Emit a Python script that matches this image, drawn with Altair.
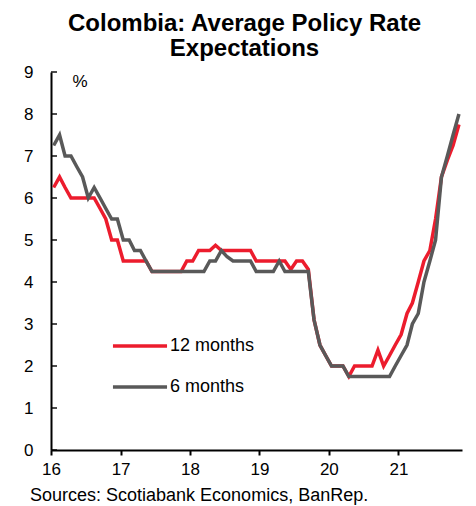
import altair as alt
import pandas as pd

# Monthly survey readings, Jan 2016 - Nov 2021 (dated mid-month)
months = [f"{2016 + i // 12}-{i % 12 + 1:02d}-15" for i in range(71)]

expect_12m = [
    6.25, 6.5, 6.25, 6.0, 6.0, 6.0, 6.0, 6.0, 5.75, 5.5, 5.0, 5.0,
    4.5, 4.5, 4.5, 4.5, 4.5, 4.25, 4.25, 4.25, 4.25, 4.25, 4.25, 4.5,
    4.5, 4.75, 4.75, 4.75, 4.875, 4.75, 4.75, 4.75, 4.75, 4.75, 4.75, 4.5,
    4.5, 4.5, 4.5, 4.5, 4.5, 4.3, 4.5, 4.5, 4.3, 3.1, 2.5, 2.25,
    2.0, 2.0, 2.0, 1.75, 2.0, 2.0, 2.0, 2.0, 2.38, 2.0, 2.25, 2.5,
    2.75, 3.25, 3.5, 4.0, 4.5, 4.75, 5.5, 6.5, 6.9, 7.25, 7.75,
]
expect_6m = [
    7.25, 7.5, 7.0, 7.0, 6.75, 6.5, 6.0, 6.25, 6.0, 5.75, 5.5, 5.5,
    5.0, 5.0, 4.75, 4.75, 4.5, 4.25, 4.25, 4.25, 4.25, 4.25, 4.25, 4.25,
    4.25, 4.25, 4.25, 4.5, 4.5, 4.75, 4.6, 4.5, 4.5, 4.5, 4.5, 4.25,
    4.25, 4.25, 4.25, 4.5, 4.25, 4.25, 4.25, 4.25, 4.25, 3.1, 2.5, 2.25,
    2.0, 2.0, 2.0, 1.75, 1.75, 1.75, 1.75, 1.75, 1.75, 1.75, 1.75, 2.0,
    2.25, 2.5, 3.0, 3.25, 4.0, 4.5, 5.0, 6.5, 7.0, 7.5, 8.0,
]

series_names = ["12 months", "6 months"]
series_colors = ["#EC1C2D", "#595959"]
y_ticks = list(range(0, 10))
year_ticks = [2016, 2017, 2018, 2019, 2020, 2021]

FONT = "Liberation Sans"
W, H = 411, 378

df = pd.concat([
    pd.DataFrame({"date": months, "rate": expect_12m, "series": series_names[0]}),
    pd.DataFrame({"date": months, "rate": expect_6m, "series": series_names[1]}),
])

x_enc = alt.X(
    "date:T",
    title=None,
    scale=alt.Scale(
        domain=[alt.DateTime(year=2016, month=1, date=1, utc=True),
                alt.DateTime(year=2021, month=12, date=1, utc=True)],
    ),
    axis=alt.Axis(
        values=[alt.DateTime(year=y, month=1, date=1, utc=True) for y in year_ticks],
        labelExpr="utcFormat(datum.value, '%y')",
        grid=False, tickSize=5, tickWidth=2, tickColor="black",
        domainColor="black", domainWidth=2,
        labelPadding=6, labelFontSize=17, labelFont=FONT, labelColor="black",
        labelFlush=False,
    ),
)
y_scale = alt.Scale(domain=[0, 9], nice=False)

lines = alt.Chart(df).mark_line(strokeWidth=3.5).encode(
    x=x_enc,
    y=alt.Y(
        "rate:Q", title=None, scale=y_scale,
        axis=alt.Axis(
            values=y_ticks, grid=False, ticks=False, tickSize=0,
            domainColor="black", domainWidth=2,
            labelPadding=18, labelFontSize=17, labelFont=FONT, labelColor="black",
        ),
    ),
    color=alt.Color(
        "series:N",
        scale=alt.Scale(domain=series_names, range=series_colors),
        legend=alt.Legend(
            title=None, orient="none", legendX=80, legendY=265,
            symbolType="M-5,0L5,0", symbolSize=117, symbolStrokeWidth=3.5,
            labelFontSize=18, labelFont=FONT, labelColor="black",
            labelOffset=21, rowPadding=23,
        ),
    ),
)

# inward tick marks on the value axis
ticks_df = pd.DataFrame({"v": y_ticks})
y_inner_ticks = alt.Chart(ticks_df).mark_tick(
    orient="horizontal", size=6, thickness=2, color="black"
).encode(y=alt.Y("v:Q", scale=y_scale), x=alt.value(3))

unit_label = alt.Chart(pd.DataFrame({"t": ["%"]})).mark_text(
    font=FONT, fontSize=17, color="black", align="center", baseline="middle"
).encode(text="t:N", x=alt.value(29), y=alt.value(10))

source_note = alt.Chart(pd.DataFrame({"t": ["Sources: Scotiabank Economics, BanRep."]})).mark_text(
    font=FONT, fontSize=18, color="black", align="left", baseline="alphabetic"
).encode(text="t:N", x=alt.value(-21), y=alt.value(H + 51))

chart = alt.layer(lines, y_inner_ticks, unit_label, source_note).properties(
    width=W,
    height=H,
    padding={"left": 51, "top": 72, "right": 14, "bottom": 56},
    autosize=alt.AutoSizeParams(type="none"),
    title=alt.Title(
        ["Colombia: Average Policy Rate", "Expectations"],
        font=FONT, fontSize=24, fontWeight="bold", color="black",
        anchor="middle", dx=-12, offset=2, lineHeight=25,
    ),
).configure_view(stroke=None)

chart.save("out.html", embed_options={"renderer": "svg", "actions": False})
